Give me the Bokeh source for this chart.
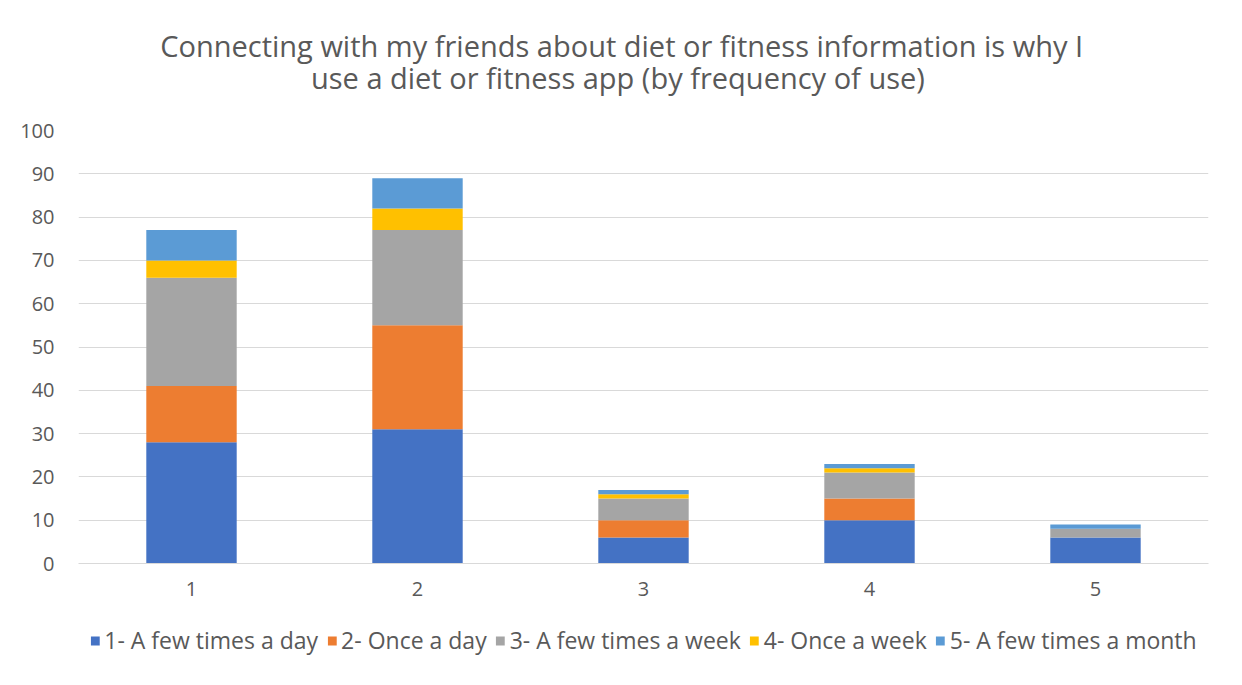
from bokeh.plotting import figure
from bokeh.layouts import column
from bokeh.models import ColumnDataSource, Legend, LegendItem, Label, FixedTicker, Range1d
from bokeh.embed import file_html
from bokeh.resources import INLINE

categories = [1, 2, 3, 4, 5]
series_names = ["1- A few times a day", "2- Once a day", "3- A few times a week", "4- Once a week", "5- A few times a month"]
few_times_day = [28, 31, 6, 10, 6]
once_day = [13, 24, 4, 5, 0]
few_times_week = [25, 22, 5, 6, 2]
once_week = [4, 5, 1, 1, 0]
few_times_month = [7, 7, 1, 1, 1]
y_ticks = [0, 10, 20, 30, 40, 50, 60, 70, 80, 90, 100]
colors = ["#4472C4", "#ED7D31", "#A5A5A5", "#FFC000", "#5B9BD5"]
title_lines = ["Connecting with my friends about diet or fitness information is why I",
               "use a diet  or fitness app (by frequency of use)"]

keys = ["s1", "s2", "s3", "s4", "s5"]
source = ColumnDataSource(dict(x=categories, s1=few_times_day, s2=once_day, s3=few_times_week,
                               s4=once_week, s5=few_times_month))

FONT = "Open Sans"
TXT = "#595959"
W = 1242


def blank(height):
    f = figure(width=W, height=height, output_backend="svg", toolbar_location=None,
               x_range=Range1d(0, W), y_range=Range1d(height, 0),
               x_axis_type=None, y_axis_type=None, min_border=0)
    f.grid.visible = False
    f.outline_line_color = None
    f.background_fill_color = "white"
    f.border_fill_color = "white"
    return f


# --- title panel ---
top = blank(100)
for t, ypix in zip(title_lines, [45, 77]):
    top.add_layout(Label(x=W / 2 - 24, y=ypix, text=t, text_align="center", text_baseline="middle",
                         text_font=FONT, text_font_size="29px", text_color=TXT))

# --- chart panel ---
p = figure(width=W, height=510, output_backend="svg", toolbar_location=None,
           x_range=Range1d(0.5, 5.5), y_range=Range1d(0, 100),
           min_border_left=78, min_border_right=34, min_border_top=30, min_border_bottom=47)
p.background_fill_color = "white"
p.border_fill_color = "white"
p.outline_line_color = None

p.vbar_stack(keys, x="x", width=0.4, color=colors, line_color=None, source=source)

p.xgrid.grid_line_color = None
p.ygrid.grid_line_color = "#D9D9D9"
p.ygrid.grid_line_width = 1
p.yaxis.ticker = FixedTicker(ticks=y_ticks)
p.xaxis.ticker = FixedTicker(ticks=categories)
for ax in (p.xaxis, p.yaxis):
    ax.major_tick_line_color = None
    ax.minor_tick_line_color = None
    ax.major_label_text_font = FONT
    ax.major_label_text_font_size = "20px"
    ax.major_label_text_color = TXT
p.yaxis.axis_line_color = None
p.xaxis.axis_line_color = "#D9D9D9"
p.yaxis.major_label_standoff = 18
p.xaxis.major_label_standoff = 12

# --- legend panel (legend swatches use placeholder renderers with no visible data) ---
leg = blank(60)
nan = float("nan")
dummy = [leg.rect(x=[nan], y=[nan], width=1, height=1, color=c, line_color=None) for c in colors]
legend = Legend(items=[LegendItem(label=n, renderers=[r]) for n, r in zip(series_names, dummy)],
                orientation="horizontal", location="center",
                label_text_font=FONT, label_text_font_size="23px", label_text_color=TXT,
                glyph_width=11, glyph_height=11, spacing=8, label_standoff=4,
                border_line_color=None, background_fill_alpha=0, margin=0, padding=0)
leg.add_layout(legend, "center")

layout = column(top, p, leg, spacing=0)
open("out.html", "w").write(file_html(layout, INLINE))
